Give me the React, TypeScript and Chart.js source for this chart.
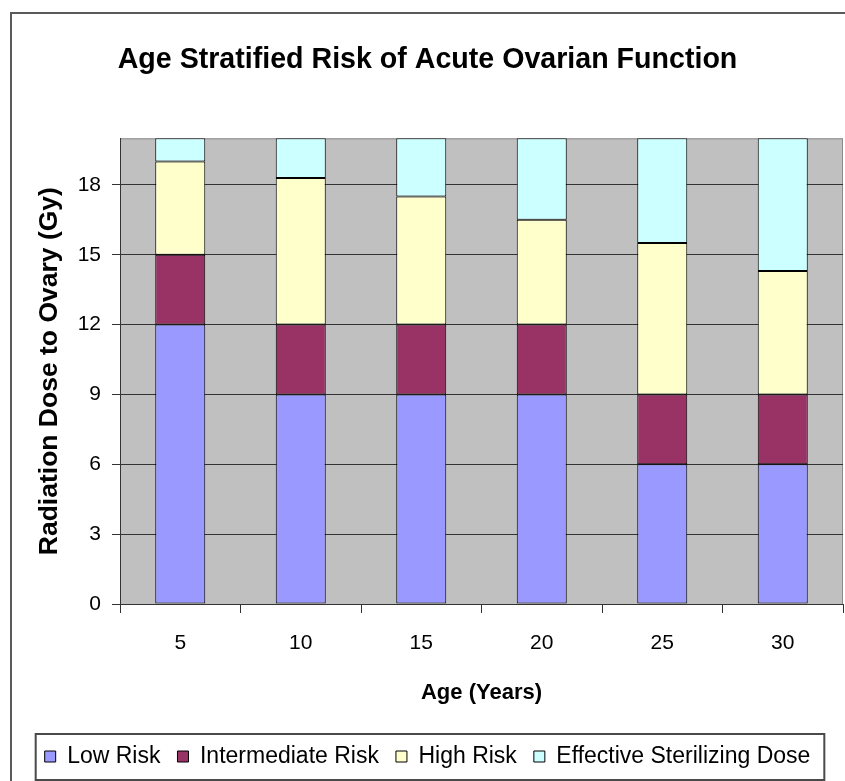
import React, { useEffect, useRef } from "react";
import { Chart, registerables } from "chart.js";

Chart.register(...registerables);

// ---- data ----
const ages = ["5", "10", "15", "20", "25", "30"];
const lowRisk = [12, 9, 9, 9, 6, 6];
const intermediateRisk = [3, 3, 3, 3, 3, 3];
const highRisk = [4, 6.3, 5.5, 4.5, 6.5, 5.3];
const sterilizingDose = [1, 1.7, 2.5, 3.5, 4.5, 5.7];
const seriesNames = ["Low Risk", "Intermediate Risk", "High Risk", "Effective Sterilizing Dose"];
const seriesColors = ["#9999FF", "#993366", "#FFFFCC", "#CCFFFF"];
const titleText = "Age Stratified Risk of Acute Ovarian Function";
const xTitle = "Age (Years)";
const yTitle = "Radiation Dose to Ovary (Gy)";
const yMin = 0;
const yMax = 20;
const yStep = 3;

const FONT = "'Liberation Sans', Arial, sans-serif";

const framePlugin = {
  id: "frame",
  beforeDraw(chart: any) {
    const { ctx, chartArea: a } = chart;
    ctx.save();
    ctx.fillStyle = "#ffffff";
    ctx.fillRect(0, 0, chart.width, chart.height);
    ctx.strokeStyle = "#5a5a5a";
    ctx.lineWidth = 2;
    ctx.strokeRect(11, 13, chart.width + 10, chart.height + 10);
    ctx.fillStyle = "#C0C0C0";
    ctx.fillRect(a.left, a.top, a.right - a.left, a.bottom - a.top);
    ctx.strokeStyle = "#8a8a8a";
    ctx.lineWidth = 1;
    ctx.strokeRect(a.left + 0.5, a.top + 0.5, a.right - a.left - 1, a.bottom - a.top);
    ctx.restore();
  },
  afterDraw(chart: any) {
    const lg = chart.legend;
    if (!lg || !lg.legendHitBoxes || !lg.legendHitBoxes.length) return;
    const hb = lg.legendHitBoxes;
    const left = Math.min(...hb.map((h: any) => h.left)) - 9;
    const right = Math.max(...hb.map((h: any) => h.left + h.width)) + 14;
    const top = hb[0].top - 11;
    const h = hb[0].height + 23;
    const { ctx } = chart;
    ctx.save();
    ctx.strokeStyle = "#4a4a4a";
    ctx.lineWidth = 2;
    ctx.strokeRect(left, top, right - left, h);
    ctx.restore();
  },
};

export default function App() {
  const ref = useRef<HTMLCanvasElement | null>(null);

  useEffect(() => {
    document.body.style.margin = "0";
    const canvas = ref.current;
    if (!canvas) return;
    const seriesData = [lowRisk, intermediateRisk, highRisk, sterilizingDose];
    const chart = new Chart(canvas, {
      type: "bar",
      data: {
        labels: ages,
        datasets: seriesNames.map((name, i) => ({
          label: name,
          data: seriesData[i],
          backgroundColor: seriesColors[i],
          borderColor: "#000000",
          borderWidth: 1,
          borderSkipped: false,
          barPercentage: 0.415,
          categoryPercentage: 1,
        })),
      },
      options: {
        responsive: false,
        animation: false,
        layout: { padding: { left: 12, right: 2, top: 0, bottom: 3 } },
        plugins: {
          title: {
            display: true,
            text: titleText,
            color: "#000000",
            font: { family: FONT, size: 28.6, weight: "bold" },
            padding: { top: 43, bottom: 61 },
          },
          legend: {
            position: "bottom",
            labels: {
              color: "#000000",
              font: { family: FONT, size: 23 },
              boxWidth: 11,
              boxHeight: 11,
              padding: 17,
            },
          },
          tooltip: { enabled: false },
        },
        scales: {
          x: {
            stacked: true,
            offset: true,
            grid: {
              offset: true,
              drawOnChartArea: false,
              drawTicks: true,
              tickLength: 9,
              color: "#333333",
            },
            border: { color: "#333333", width: 1 },
            ticks: {
              color: "#000000",
              font: { family: FONT, size: 21 },
              padding: 18,
              maxRotation: 0,
            },
            title: {
              display: true,
              text: xTitle,
              color: "#000000",
              font: { family: FONT, size: 22, weight: "bold" },
              padding: { top: 4, bottom: 22 },
            },
            afterFit(scale: any) {
              scale.height = 124;
            },
          },
          y: {
            stacked: true,
            min: yMin,
            max: yMax,
            grid: {
              color: "#333333",
              lineWidth: 1,
              drawTicks: true,
              tickLength: 8,
            },
            border: { color: "#333333", width: 1 },
            ticks: {
              stepSize: yStep,
              includeBounds: false,
              color: "#000000",
              font: { family: FONT, size: 21 },
              padding: 11,
            },
            title: {
              display: true,
              text: yTitle,
              color: "#000000",
              font: { family: FONT, size: 26.5, weight: "bold" },
              padding: { top: 22, bottom: 4 },
            },
            afterFit(scale: any) {
              scale.width = 108;
            },
          },
        },
      },
      plugins: [framePlugin],
    } as any);
    return () => chart.destroy();
  }, []);

  return (
    <div style={{ width: 845, height: 781 }}>
      <canvas ref={ref} width={845} height={781} />
    </div>
  );
}
